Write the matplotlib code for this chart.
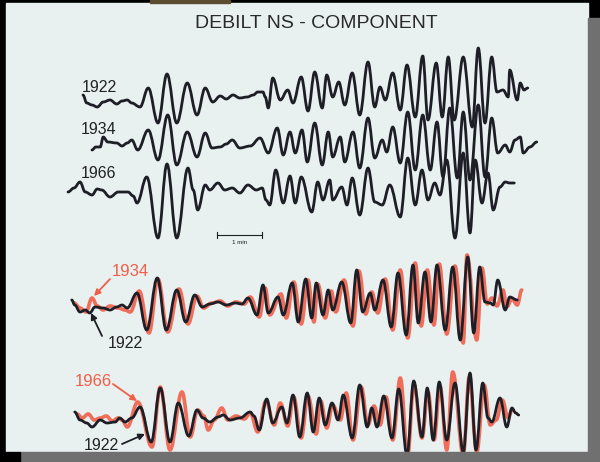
import matplotlib
matplotlib.use("Agg")
from matplotlib import pyplot as plt
from matplotlib.path import Path
from matplotlib.patches import PathPatch, Rectangle

plt.rcParams['font.family'] = ['Liberation Sans', 'DejaVu Sans']

# De Bilt NS-component seismograms.
# time in seconds from the first motion, deflection in trace units (up = positive)

# upper block: the three records stacked
t_1922a = [4, 9, 16, 23, 31, 40, 49, 56, 63, 69, 80, 91, 104, 116, 129, 143, 156, 167, 177, 187,
           195, 204, 213, 223, 231, 237, 244, 247, 251, 257, 267, 277, 284, 295, 304, 313, 323, 329,
           337, 345, 353, 363, 373, 384, 393, 400, 407, 417, 427, 436, 447, 457, 464, 475, 483, 491,
           499, 511, 523, 531, 540, 549, 556, 564, 571, 573, 583, 587, 592, 597]
amp_1922a = [5, -3, -5, -7, -2, 0, -4, -1, 0, -3, -7, 12, -23, 26, -23, 17, -15, 12, -2, 4,
             1, 5, 2, 3, 5, 8, 8, 3, -8, 22, 0, 10, -3, 23, -11, 28, -8, 25,
             3, 18, -5, 27, -15, 38, -7, 13, 0, 27, -10, 35, -17, 44, -20, 37, -17, 43,
             -20, 43, -27, 52, -23, 43, 8, 10, 3, 30, 0, 17, 10, 12]

t_1934a = [16, 21, 27, 31, 37, 49, 56, 63, 69, 77, 91, 104, 117, 129, 143, 156, 167, 176, 187, 195,
           203, 213, 227, 240, 251, 263, 271, 280, 287, 296, 303, 313, 323, 331, 337, 347, 353, 364,
           373, 384, 393, 403, 409, 417, 427, 437, 447, 457, 467, 476, 484, 493, 503, 511, 520, 531,
           540, 549, 557, 567, 573, 580, 587, 591, 600, 609]
amp_1934a = [-5, -2, -2, 8, 3, 2, -1, 2, 5, -5, 15, -15, 30, -20, 13, -12, 12, -3, -2, 1,
             5, -3, -1, 7, -8, 17, -10, 13, -8, 15, -17, 22, -20, 13, -12, 8, -17, 13,
             -23, 27, -13, 5, -7, 18, -18, 33, -25, 30, -25, 23, -32, 37, -33, 33, -35, 40,
             -32, 27, -8, 0, -7, 5, 8, -8, -2, 3]

t_1966a = [-16, -8, 0, 7, 16, 23, 29, 40, 51, 64, 71, 76, 89, 104, 116, 129, 144, 151, 157, 167,
           173, 184, 193, 203, 213, 224, 235, 243, 248, 253, 261, 271, 280, 287, 295, 309, 317, 324,
           333, 337, 349, 356, 363, 373, 384, 393, 403, 413, 427, 437, 447, 456, 464, 473, 480, 489,
           500, 511, 520, 527, 536, 544, 551, 560, 567, 573, 579]
amp_1966a = [-2, 2, 8, -2, -5, 1, 0, -7, -2, -2, -6, -13, 13, -48, 26, -48, 22, 0, -20, 5,
             0, 7, 0, 2, -3, 5, 0, 2, -10, -15, 20, -13, 14, -13, 13, -22, 8, -10,
             10, -10, 3, -15, 12, -25, 22, -12, -15, 5, -27, 32, -15, 20, -10, 7, -5, 30,
             -48, 37, -43, 30, -13, 17, -20, 3, 8, 7, 7]

# middle block: 1922 (black) overlaid on 1934 (red)
t_1922b = [-11, -7, 0, 7, 13, 20, 31, 40, 49, 56, 63, 76, 89, 103, 115, 129, 141, 153, 163, 173,
           184, 195, 207, 216, 224, 236, 244, 251, 264, 271, 283, 291, 301, 309, 315, 324, 331, 337,
           349, 361, 369, 377, 387, 393, 404, 415, 424, 435, 444, 451, 460, 468, 476, 487, 497, 507,
           517, 525, 533, 540, 547, 551, 557, 567, 573, 583]
amp_1922b = [3, -2, -9, -7, -10, -4, -5, -7, -4, -2, -5, 10, -27, 25, -27, 13, -19, 8, -4, -1,
             1, -2, 0, -1, 5, -12, 18, -10, 6, -12, 20, -19, 24, -15, 20, -12, 13, -7,
             21, -20, 33, -9, 10, -7, 23, -24, 30, -32, 38, -20, 31, -19, 38, -27, 36, -37,
             46, -30, 36, 1, 0, -2, 23, -7, 6, 3]

t_1934b = [-8, 0, 8, 16, 23, 31, 40, 51, 60, 67, 79, 92, 104, 117, 132, 144, 156, 165, 176, 187,
           197, 208, 219, 227, 239, 247, 253, 268, 275, 285, 295, 304, 312, 317, 327, 335, 341, 352,
           364, 372, 381, 389, 397, 407, 417, 427, 437, 447, 455, 463, 472, 479, 489, 500, 511, 516,
           529, 536, 543, 549, 556, 564, 569, 576, 583, 589]
amp_1934b = [0, -5, -9, 5, -3, -7, -3, -5, -7, -9, 12, -30, 24, -29, 14, -21, 7, -5, 0, 2,
             -3, 1, -1, 6, -14, 15, -12, 9, -15, 21, -21, 23, -19, 19, -15, 12, -9, 23,
             -23, 32, -11, 11, -10, 24, -27, 33, -35, 40, -23, 33, -22, 39, -31, 37, -40, 48,
             -37, 35, -1, 5, -3, 13, -4, 4, -2, 13]

# lower block: 1922 (black) overlaid on 1966 (red)
t_1922c = [-7, 0, 9, 16, 27, 36, 47, 53, 60, 69, 80, 95, 107, 120, 131, 145, 156, 164, 173, 184,
           191, 200, 213, 227, 232, 239, 249, 257, 269, 276, 284, 293, 303, 311, 319, 327, 336, 344,
           351, 363, 373, 383, 389, 396, 405, 416, 425, 436, 445, 456, 463, 471, 479, 489, 500, 511,
           520, 528, 537, 544, 549, 560, 569, 576, 581, 585]
amp_1922c = [3, -5, -8, -12, -5, -8, -7, -3, -7, -3, 8, -27, 27, -27, 12, -21, 5, -3, -7, -2,
             0, -5, -3, 3, -1, -15, 16, -8, 8, -8, 20, -22, 22, -17, 17, -10, 12, -5,
             20, -23, 30, -12, 7, -12, 19, -23, 26, -40, 34, -22, 27, -25, 33, -25, 32, -37,
             42, -35, 32, -3, -7, 17, -12, 7, 2, 0]

t_1966c = [-4, 3, 11, 19, 27, 35, 43, 51, 56, 63, 77, 96, 107, 120, 136, 147, 157, 165, 171, 179,
           189, 197, 208, 219, 227, 237, 248, 259, 267, 277, 285, 295, 304, 315, 321, 329, 337, 347,
           355, 364, 375, 384, 392, 400, 408, 417, 427, 437, 445, 456, 464, 472, 480, 489, 497, 511,
           519, 529, 539, 547, 555, 563, 571, 576]
amp_1966c = [1, -3, 1, -5, -3, -1, -6, -3, -5, -12, 13, -32, 28, -35, 23, -22, 5, -1, -15, -5,
             7, -5, -1, -4, 2, -17, 14, -10, 12, -11, 18, -23, 19, -19, 14, -13, 10, -5,
             22, -25, 28, -10, 9, -10, 18, -25, 37, -40, 31, -23, 23, -25, 29, -35, 43, -40,
             38, -37, 30, -10, -5, 15, -3, 5]

scale_bar_seconds = 60

# layout: baseline of each trace on the slide (pixels from top)
baselines = {'1922a': 100, '1934a': 145, '1966a': 190, 'b': 303, 'c': 415}
ink = '#1e1e26'
red = '#f05f48'
paper = '#e8f0f0'


def trace_path(t, amp, base, k=0.38):
    # smooth curve through the picked peaks and troughs
    verts = [(t[0], amp[0] - base)]
    codes = [Path.MOVETO]
    for i in range(1, len(t)):
        dx = (t[i] - t[i - 1]) * k
        verts += [(t[i - 1] + dx, amp[i - 1] - base), (t[i] - dx, amp[i] - base), (t[i], amp[i] - base)]
        codes += [Path.CURVE4] * 3
    return Path(verts, codes)


def draw(ax, t, amp, base, color, lw, alpha=1.0):
    ax.add_patch(PathPatch(trace_path(t, amp, base), fill=False, edgecolor=color, lw=lw,
                           alpha=alpha, capstyle='round', joinstyle='round'))


fig = plt.figure(figsize=(6, 4.62), dpi=100, facecolor='black')

# slide background
bg = fig.add_axes([0, 0, 1, 1])
bg.set_xlim(0, 600)
bg.set_ylim(462, 0)
bg.axis('off')
bg.add_patch(Rectangle((6, 3), 582, 449, color=paper))
bg.add_patch(Rectangle((150, 0), 80, 3, color='#5c4c30'))

# traces: x = seconds (45 px per minute), y = deflection minus baseline
ax = fig.add_axes([0, 0, 1, 1])
ax.patch.set_alpha(0)
ax.set_xlim(-80 / 0.75, 520 / 0.75)
ax.set_ylim(-462, 0)
ax.axis('off')

draw(ax, t_1922a, amp_1922a, baselines['1922a'], ink, 2.0)
draw(ax, t_1934a, amp_1934a, baselines['1934a'], ink, 2.0)
draw(ax, t_1966a, amp_1966a, baselines['1966a'], ink, 2.0)

draw(ax, t_1934b, amp_1934b, baselines['b'], red, 2.6, 0.9)
draw(ax, t_1922b, amp_1922b, baselines['b'], ink, 2.0)

draw(ax, t_1966c, amp_1966c, baselines['c'], red, 2.6, 0.9)
draw(ax, t_1922c, amp_1922c, baselines['c'], ink, 2.0)

# 1 min scale bar
x0 = (217 - 80) / 0.75
ax.plot([x0, x0 + scale_bar_seconds], [-235, -235], color=ink, lw=0.8)
for xe in (x0, x0 + scale_bar_seconds):
    ax.plot([xe, xe], [-232, -238], color=ink, lw=0.8)

# overlay: text, arrows, slide shadow
top = fig.add_axes([0, 0, 1, 1])
top.patch.set_alpha(0)
top.set_xlim(0, 600)
top.set_ylim(462, 0)
top.axis('off')

top.text(316, 23, 'DEBILT NS - COMPONENT', ha='center', va='center', fontsize=14, color='#2a2a2a')
top.text(240, 242, '1 min', ha='center', va='center', fontsize=4.5, color=ink)

for label, y in (('1922', 88), ('1934', 129), ('1966', 174)):
    top.text(99, y, label, ha='center', va='center', fontsize=11.5, color='#222222')

top.text(130, 272, '1934', ha='center', va='center', fontsize=12, color=red)
top.text(125, 344, '1922', ha='center', va='center', fontsize=11.5, color='#222222')
top.text(93, 382, '1966', ha='center', va='center', fontsize=12, color=red)
top.text(101, 445, '1922', ha='center', va='center', fontsize=11.5, color='#222222')

arrows = [((110, 279), (94, 296), red), ((102, 336), (91, 313), ink),
          ((113, 384), (137, 401), red), ((122, 444), (145, 434), ink)]
for tail, tip, col in arrows:
    top.annotate('', xy=tip, xytext=tail,
                 arrowprops=dict(arrowstyle='-|>', color=col, lw=1.3, mutation_scale=9,
                                 shrinkA=0, shrinkB=0))

top.add_patch(Rectangle((20, 452), 580, 10, color='#707070'))
top.add_patch(Rectangle((588, 18), 12, 444, color='#707070'))
top.add_patch(Rectangle((0, 452), 20, 10, color='black'))

fig.savefig('out.png', dpi=100, facecolor='black')
plt.close()
